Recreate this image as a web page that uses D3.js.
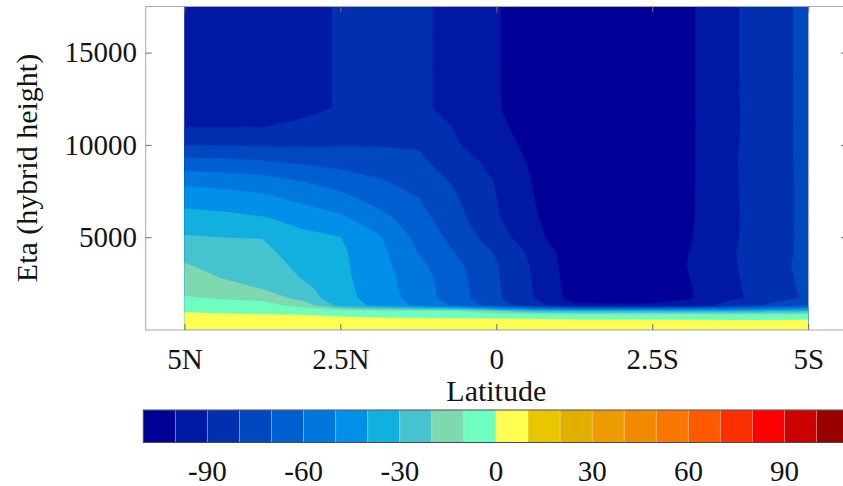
<!DOCTYPE html>
<html>
<head>
<meta charset="utf-8">
<script src="https://cdn.jsdelivr.net/npm/d3@7"></script>
<style>
  html, body { margin: 0; padding: 0; background: #fff; overflow: hidden; }
  text { font-family: "Liberation Serif", "Times New Roman", serif; fill: #141414; }
</style>
</head>
<body>
<svg id="chart" width="843" height="486"></svg>
<script>
// Latitude of each profile column (degrees, north positive)
const latitudes = [5, 4.375, 3.75, 3.125, 2.5, 1.875, 1.25, 0.625, 0,
                   -0.625, -1.25, -1.875, -2.5, -3.125, -3.75, -4.375, -5];

// Model level heights (m), surface first
const heights = [0, 200, 400, 600, 800, 1000, 1300, 1700, 2200, 2800, 3500, 4200,
                 5000, 6000, 7000, 8000, 9000, 10000, 11000, 12000, 14000, 16000, 17500];

// Field profiles, one per latitude, listed from the surface upwards
const prof_5_000N = [7, 5.5, 4.0, 2.6, 1.1, -0.7, -4.3, -9.3, -12.4, -15.6, -19.4, -23.9, -29.2, -36, -43.3, -52.1, -65.5, -80.1, -90.4, -95, -95, -95, -95];
const prof_4_375N = [7, 5.4, 3.9, 2.3, 0.7, -1.5, -5.8, -11, -15.6, -20.5, -23.5, -26.5, -30.1, -37, -44.7, -53.6, -66.3, -80.6, -90.4, -95, -95, -95, -95];
const prof_3_750N = [7, 5.3, 3.7, 2.0, 0.3, -2.3, -6.5, -12.6, -20.2, -22.3, -24.8, -27.3, -30.4, -39.1, -46.7, -55.4, -68, -81.1, -90.4, -95, -95, -95, -95];
const prof_3_125N = [7, 5.2, 3.5, 1.8, -0.1, -4.3, -13.1, -24, -26.4, -30.4, -32.7, -35.1, -37.7, -42.8, -51.6, -59.7, -70.7, -81.2, -87.3, -94, -94, -94, -94];
const prof_2_500N = [7, 5.1, 3.2, 1.3, -1.4, -6.2, -34, -36.2, -37, -37.5, -38, -38.3, -39.9, -47.9, -56.2, -64.4, -72.8, -80.7, -83.5, -88.9, -88.9, -88.9, -88.9];
const prof_1_875N = [7, 4.9, 2.8, 0.7, -3.2, -8.0, -43, -44.7, -45.3, -45.9, -46.4, -47.2, -49.2, -56.3, -63.3, -68.8, -75.2, -80.5, -82.4, -85.2, -85.6, -85.8, -86];
const prof_1_250N = [7, 4.7, 2.5, 0.25, -4.4, -9.3, -52, -54.5, -55, -55.6, -57.8, -60.3, -62.9, -66.2, -69.5, -73.5, -77.6, -81.0, -83.5, -88, -88, -88, -88];
const prof_0_625N = [6, 4.0, 2.0, -0.1, -4.9, -10.1, -62, -66, -66.3, -66.8, -68.2, -71, -74, -77.2, -79.3, -81.7, -85.5, -89.4, -91.1, -93.4, -93.4, -93.4, -93.4];
const prof_0_000  = [6, 4.0, 2.0, -0.15, -5.8, -20, -76, -78.1, -78.5, -78.9, -79.4, -81.2, -85.3, -88.8, -89.8, -90.6, -92.9, -96.2, -98.2, -99.3, -99.4, -99.4, -99.4];
const prof_0_625S = [6, 4.0, 1.9, -0.4, -7.0, -30, -86, -90.7, -91.0, -91.4, -92, -93.2, -97.6, -99.2, -100.1, -101, -102, -103, -104, -105, -105, -105, -105];
const prof_1_250S = [6, 3.9, 1.6, -0.8, -8.5, -32, -98, -104, -104.5, -105, -105.5, -106, -107, -107, -107, -107, -107, -107, -107, -107, -107, -107, -107];
const prof_1_875S = [6, 3.9, 1.6, -0.8, -8.5, -32, -98, -106, -107, -107, -107.5, -108, -108, -108, -108, -108, -108, -108, -108, -108, -108, -108, -108];
const prof_2_500S = [6, 3.9, 1.5, -0.9, -8.7, -33, -98, -105, -106, -106, -106, -106.5, -106.5, -106.5, -106.5, -106.5, -106.5, -106.5, -106.5, -106.5, -106.5, -106.5, -106.5];
const prof_3_125S = [6, 3.9, 1.5, -1.0, -9, -33, -97, -100.4, -100.3, -99.8, -99.2, -99.6, -100.3, -100.8, -100.9, -101, -101, -101, -101, -101, -101, -101, -101];
const prof_3_750S = [6, 3.7, 1.3, -1.3, -9.5, -35, -85, -92.5, -92.2, -91.8, -91.5, -91.0, -91.6, -91.7, -91.8, -91.6, -91.5, -91.7, -91.9, -91.8, -91.7, -91.7, -91.7];
const prof_4_375S = [6, 3.6, 1.4, -1.5, -9, -32, -78, -85.5, -85, -84.5, -83.6, -84.4, -84.8, -84.6, -84.4, -84.2, -84.1, -84.3, -84.7, -84.5, -84.3, -84.3, -84.3];
const prof_5_000S = [6, 3.8, 1.6, -1.0, -8, -30, -70, -78.5, -77.8, -77.4, -77.2, -77.5, -77.4, -77.4, -77.5, -77.6, -77.5, -77.3, -77.1, -77.2, -77.3, -77.3, -77.3];

const profiles = [prof_5_000N, prof_4_375N, prof_3_750N, prof_3_125N, prof_2_500N, prof_1_875N,
                  prof_1_250N, prof_0_625N, prof_0_000, prof_0_625S, prof_1_250S, prof_1_875S,
                  prof_2_500S, prof_3_125S, prof_3_750S, prof_4_375S, prof_5_000S];

// Shading levels: 22 bins of width 10 from -110 to 110
const levelMin = -110;
const levelStep = 10;
const binColors = ["#000096", "#0018a4", "#002fb0", "#0047c0", "#005fd0", "#0077dc",
                   "#0090ea", "#12b0de", "#47c3cf", "#7ed8b0", "#6effc0", "#ffff52",
                   "#e8c600", "#e1af00", "#ec9c00", "#f28a00", "#f97700", "#ff5a00",
                   "#ff3000", "#ff0000", "#cc0000", "#990000"];

const colorbarTicks = [-90, -60, -30, 0, 30, 60, 90];
const latTicks = [5, 2.5, 0, -2.5, -5];
const latTickLabels = ["5N", "2.5N", "0", "2.5S", "5S"];
const heightTicks = [5000, 10000, 15000];

// ---------------------------------------------------------------------------
const svg = d3.select("#chart");

const frame = { left: 145.7, right: 846.9, top: 6.5, bottom: 330 };

const x = d3.scaleLinear().domain([5.62, -5.62]).range([frame.left, frame.right]);
const y = d3.scaleLinear().domain([0, 17500]).range([329.5, 6.5]);

// grid for the contouring, row 0 = surface
const nx = latitudes.length, ny = heights.length;
const grid = new Array(nx * ny);
for (let j = 0; j < ny; j++)
  for (let i = 0; i < nx; i++)
    grid[i + j * nx] = profiles[i][j];

// grid coordinate -> data coordinate (samples sit at cell centres)
function gridLat(u) {
  const s = Math.max(0, Math.min(nx - 1, u - 0.5));
  const k = Math.min(nx - 2, Math.floor(s));
  return latitudes[k] + (latitudes[k + 1] - latitudes[k]) * (s - k);
}
function gridHeight(v) {
  const s = Math.max(0, Math.min(ny - 1, v - 0.5));
  const k = Math.min(ny - 2, Math.floor(s));
  return heights[k] + (heights[k + 1] - heights[k]) * (s - k);
}

const projection = d3.geoTransform({
  point: function (u, v) { this.stream.point(x(gridLat(u)), y(gridHeight(v))); }
});
const path = d3.geoPath(projection);

const thresholds = [-1000].concat(d3.range(-100, 20, levelStep));
const contours = d3.contours().size([nx, ny]).thresholds(thresholds)(grid);

function colorFor(t) {
  const idx = t < levelMin + levelStep ? 0 : Math.round((t - levelMin) / levelStep);
  return binColors[Math.max(0, Math.min(binColors.length - 1, idx))];
}

svg.append("defs").append("clipPath").attr("id", "plotClip")
  .append("rect")
  .attr("x", x(5)).attr("y", y(17500))
  .attr("width", x(-5) - x(5)).attr("height", y(0) - y(17500) + 0.5);

svg.append("g").attr("clip-path", "url(#plotClip)")
  .selectAll("path")
  .data(contours)
  .join("path")
  .attr("d", path)
  .attr("fill", d => colorFor(d.value))
  .attr("stroke", d => colorFor(d.value))
  .attr("stroke-width", 0.4);

// frame
svg.append("rect")
  .attr("x", frame.left).attr("y", frame.top)
  .attr("width", frame.right - frame.left).attr("height", frame.bottom - frame.top)
  .attr("fill", "none").attr("stroke", "#a8a8a8").attr("stroke-width", 1);

// axes (inward ticks on all four sides)
const tickColor = "#707070";
const xBottom = svg.append("g").attr("transform", `translate(0,${frame.bottom})`)
  .call(d3.axisBottom(x).tickValues(latTicks)
    .tickFormat((d, i) => latTickLabels[i]).tickSize(-6).tickPadding(18.5));
const xTop = svg.append("g").attr("transform", `translate(0,${frame.top})`)
  .call(d3.axisTop(x).tickValues(latTicks).tickFormat("").tickSize(-6));
const yLeft = svg.append("g").attr("transform", `translate(${frame.left},0)`)
  .call(d3.axisLeft(y).tickValues(heightTicks).tickFormat(d3.format("d"))
    .tickSize(-6).tickPadding(8.7));
const yRight = svg.append("g").attr("transform", `translate(${frame.right},0)`)
  .call(d3.axisRight(y).tickValues(heightTicks).tickFormat("").tickSize(-6));

[xBottom, xTop, yLeft, yRight].forEach(g => {
  g.select(".domain").remove();
  g.selectAll(".tick line").attr("stroke", tickColor);
  g.selectAll(".tick text").attr("font-size", 29).attr("fill", "#141414")
    .style("font-family", "'Liberation Serif', serif");
});

// axis titles
svg.append("text")
  .attr("x", x(0)).attr("y", 401)
  .attr("text-anchor", "middle").attr("font-size", 30)
  .text("Latitude");

svg.append("text")
  .attr("transform", "translate(37,168) rotate(-90)")
  .attr("text-anchor", "middle").attr("font-size", 30)
  .text("Eta (hybrid height)");

// colour bar
const cb = d3.scaleLinear().domain([-110, 110]).range([143.3, 848.7]);
const cbTop = 410, cbHeight = 32.5;
const bins = d3.range(binColors.length).map(k => ({
  lo: levelMin + k * levelStep, hi: levelMin + (k + 1) * levelStep, color: binColors[k]
}));
const cbar = svg.append("g");
cbar.selectAll("rect")
  .data(bins)
  .join("rect")
  .attr("x", d => cb(d.lo)).attr("y", cbTop)
  .attr("width", d => cb(d.hi) - cb(d.lo)).attr("height", cbHeight)
  .attr("fill", d => d.color)
  .attr("stroke", "rgba(255,255,255,0.22)").attr("stroke-width", 1);
cbar.append("rect")
  .attr("x", cb(-110)).attr("y", cbTop)
  .attr("width", cb(110) - cb(-110)).attr("height", cbHeight)
  .attr("fill", "none").attr("stroke", "#4a4a4a").attr("stroke-width", 1);

cbar.selectAll("text.cbl")
  .data(colorbarTicks)
  .join("text")
  .attr("class", "cbl")
  .attr("x", d => cb(d)).attr("y", 481)
  .attr("text-anchor", "middle").attr("font-size", 29)
  .text(d => d);
</script>
</body>
</html>
